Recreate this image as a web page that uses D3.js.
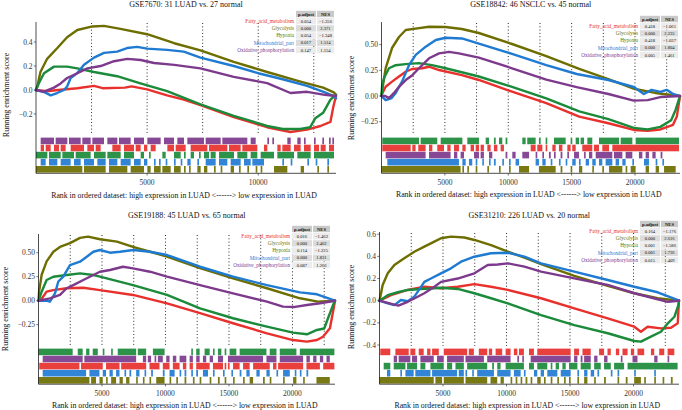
<!DOCTYPE html>
<html><head><meta charset="utf-8">
<script src="https://cdn.jsdelivr.net/npm/d3@7"></script>
<style>body{margin:0;background:#fff}svg{display:block}text{font-family:"Liberation Serif","DejaVu Serif",serif}</style>
</head><body><svg id="c" width="682" height="410"></svg>
<script>
// ---------- data ----------
const geneSets = ["Fatty_acid_metabolism","Glycolysis","Hypoxia","Mitochondrial_part","Oxidative_phosphorylation"];
const setColors = ["#e8302c","#6e6e00","#1b8a3a","#1f7ad2","#7d3a8c"];
const titles = ["GSE7670: 31 LUAD vs. 27 normal","GSE18842: 46 NSCLC vs. 45 normal","GSE19188: 45 LUAD vs. 65 normal","GSE31210: 226 LUAD vs. 20 normal"];
const rankMax = [13500, 23550, 23350, 23580];
const xTickVals = [[5000,10000],[5000,10000,15000,20000],[5000,10000,15000,20000],[5000,10000,15000,20000]];
const yTickVals = [[-0.2,0,0.2,0.4],[-0.25,0,0.25,0.5],[-0.25,0,0.25,0.5],[-0.4,-0.2,0,0.2,0.4,0.6]];
const vLineStep = 2500;
const pAdjust = [["0.054","0.000","0.054","0.017","0.147"],["0.418","0.000","0.418","0.000","0.005"],["0.016","0.000","0.114","0.000","0.087"],["0.164","0.000","0.001","0.001","0.015"]];
const nesVals = [["-1.356","2.371","-1.348","1.514","1.154"],["-1.061","2.235","-1.037","1.804","1.461"],["-1.462","2.462","-1.225","1.831","1.266"],["-1.176","2.616","-1.586","1.736","1.409"]];
const rugOrder = [[4,0,2,3,1],[2,0,4,3,1],[2,4,0,3,1],[0,4,2,3,1]];

// running enrichment score [rank, ES]
const es1_fatty=[[0,0],[500,-0.01],[1000,0],[1860,0.015],[2610,0.035],[3000,0.015],[4000,0.02],[4300,0.03],[5000,0.005],[5900,-0.045],[6650,-0.08],[7400,-0.125],[8900,-0.225],[10400,-0.31],[11450,-0.35],[12200,-0.33],[12800,-0.3],[13250,-0.265],[13380,-0.14],[13500,-0.05]];
const es1_gly=[[0,0],[60,0.03],[200,0.15],[500,0.26],[960,0.35],[1400,0.44],[1860,0.5],[2540,0.53],[3060,0.535],[3800,0.51],[5000,0.465],[6220,0.39],[7400,0.33],[8900,0.235],[10400,0.15],[11900,0.07],[12920,0.02],[13400,-0.02],[13500,-0.04]];
const es1_hyp=[[0,0],[140,0.06],[360,0.14],[810,0.195],[1400,0.195],[1860,0.18],[2610,0.15],[3650,0.115],[4700,0.055],[5900,-0.01],[7400,-0.12],[8900,-0.215],[10400,-0.3],[11100,-0.325],[11900,-0.325],[12340,-0.31],[12570,-0.235],[12920,-0.19],[13250,-0.08],[13500,-0.04]];
const es1_mito=[[0,0],[400,-0.02],[660,-0.045],[950,-0.025],[1260,0],[1400,0.03],[1560,0.1],[1850,0.14],[2160,0.21],[2610,0.27],[3060,0.31],[3650,0.32],[4100,0.35],[4550,0.36],[5000,0.345],[5900,0.335],[6650,0.32],[7400,0.27],[8900,0.2],[10000,0.14],[11100,0.09],[12200,0.035],[13000,-0.02],[13400,-0.05],[13500,-0.07]];
const es1_ox=[[0,0],[360,-0.014],[810,0.02],[1110,0.055],[1400,0.1],[1860,0.14],[2310,0.18],[2910,0.2],[3510,0.24],[4110,0.26],[4710,0.25],[5310,0.225],[6220,0.21],[7400,0.18],[8900,0.11],[10400,0.058],[11450,-0.025],[12200,-0.015],[13000,-0.04],[13500,-0.05]];

const es2_fatty=[[0,0],[80,0.03],[330,0.09],[830,0.14],[1380,0.19],[1910,0.236],[2410,0.263],[3200,0.27],[3750,0.285],[4540,0.253],[6340,0.204],[7680,0.156],[10300,0.042],[13000,-0.07],[15600,-0.2],[17900,-0.265],[19900,-0.33],[21000,-0.337],[22000,-0.325],[23000,-0.28],[23300,-0.2],[23550,0]];
const es2_gly=[[0,0],[120,0.107],[330,0.272],[830,0.467],[1380,0.574],[1910,0.642],[2960,0.661],[3750,0.674],[5050,0.671],[6340,0.652],[7680,0.613],[10300,0.506],[13000,0.389],[15600,0.263],[17900,0.165],[20000,0.068],[21600,0.03],[23550,0]];
const es2_hyp=[[0,0],[50,0.1],[200,0.175],[590,0.27],[1120,0.3],[1910,0.31],[2960,0.32],[3980,0.3],[5060,0.27],[7680,0.19],[10300,0.09],[13000,-0.022],[15600,-0.15],[17900,-0.225],[19900,-0.31],[21000,-0.325],[22000,-0.3],[22850,-0.235],[23200,-0.135],[23550,0]];
const es2_mito=[[0,0],[330,-0.04],[800,-0.02],[1120,0.03],[1620,0.14],[2170,0.3],[2700,0.4],[3490,0.48],[4280,0.545],[5060,0.567],[6340,0.56],[7680,0.51],[10300,0.41],[13000,0.3],[15400,0.214],[17900,0.156],[19900,0.088],[20700,0.02],[21300,0.06],[22000,0.04],[22500,0.06],[23000,0.02],[23550,0]];
const es2_ox=[[0,0],[300,0],[590,-0.02],[990,0.03],[1380,0.09],[1910,0.155],[2410,0.2],[2960,0.27],[3750,0.367],[4540,0.415],[5320,0.43],[6100,0.415],[7680,0.373],[10300,0.27],[13000,0.16],[15400,0.087],[17900,0.02],[19900,-0.045],[21000,-0.04],[22000,-0.01],[23550,0]];

const es3_fatty=[[0,0],[250,0.02],[640,0.094],[1170,0.11],[2220,0.13],[3530,0.135],[4840,0.11],[7440,0.06],[10120,-0.027],[12720,-0.13],[15320,-0.235],[17990,-0.34],[20040,-0.41],[21140,-0.427],[21930,-0.41],[22400,-0.375],[22950,-0.288],[23250,-0.076],[23350,0]];
const es3_gly=[[0,0],[50,0.1],[250,0.27],[640,0.41],[1170,0.51],[1690,0.56],[2480,0.6],[3270,0.655],[3900,0.667],[4840,0.64],[6180,0.615],[7440,0.56],[8780,0.51],[10120,0.46],[12720,0.34],[15320,0.233],[17990,0.13],[20590,0.025],[22000,-0.01],[23350,0]];
const es3_hyp=[[0,0],[250,0.094],[640,0.216],[1170,0.25],[2220,0.268],[3270,0.285],[4320,0.268],[4840,0.25],[7440,0.163],[10120,0.06],[12720,-0.08],[15320,-0.183],[17990,-0.27],[20040,-0.333],[21140,-0.35],[21930,-0.305],[22500,-0.29],[22800,-0.183],[23200,-0.045],[23350,0]];
const es3_mito=[[0,0],[600,0],[900,-0.01],[1300,0.077],[1560,0.2],[1950,0.25],[2480,0.37],[3270,0.406],[3800,0.458],[4320,0.51],[4840,0.528],[5630,0.5],[6420,0.51],[7470,0.528],[8780,0.51],[10120,0.476],[12720,0.354],[15320,0.25],[17990,0.163],[20590,0.087],[21930,0.067],[23350,0]];
const es3_ox=[[0,0],[900,0.025],[1690,0.06],[2220,0.13],[2740,0.163],[3530,0.216],[4320,0.268],[4840,0.302],[5630,0.32],[6650,0.354],[7440,0.337],[8780,0.302],[10120,0.25],[12720,0.163],[15320,0.077],[17990,-0.01],[19250,-0.062],[20200,-0.065],[21140,-0.045],[22170,-0.027],[23350,0]];

const es4_fatty=[[0,0],[900,0.05],[2220,0.097],[3530,0.126],[4840,0.112],[6160,0.126],[7470,0.15],[8780,0.126],[10100,0.097],[12720,0.022],[15340,-0.069],[17970,-0.159],[20060,-0.235],[20580,-0.28],[21110,-0.235],[22160,-0.25],[22950,-0.244],[23480,-0.204],[23580,0]];
const es4_gly=[[0,0],[250,0.142],[650,0.247],[1170,0.322],[1950,0.382],[2740,0.442],[3530,0.488],[4320,0.533],[4840,0.564],[5630,0.578],[6680,0.57],[7470,0.548],[8780,0.502],[10100,0.443],[11410,0.388],[12720,0.329],[15340,0.224],[17970,0.133],[20060,0.067],[21900,0.022],[23580,0]];
const es4_hyp=[[0,0],[650,0.05],[1440,0.076],[2220,0.097],[3270,0.106],[4320,0.112],[4840,0.117],[6160,0.106],[7470,0.067],[8780,0.022],[10100,-0.024],[12720,-0.13],[15340,-0.22],[17970,-0.294],[20060,-0.364],[20580,-0.37],[21370,-0.325],[22160,-0.28],[22700,-0.204],[23220,-0.145],[23530,-0.04],[23580,0]];
const es4_mito=[[0,0],[650,-0.024],[1170,-0.04],[1690,0.006],[2220,-0.005],[2740,0.036],[3000,0.08],[3530,0.17],[4050,0.2],[4840,0.247],[5630,0.292],[6420,0.352],[7470,0.397],[8780,0.428],[10100,0.433],[11410,0.397],[12720,0.337],[15340,0.262],[17970,0.187],[20060,0.126],[21900,0.076],[23500,0.006],[23580,0]];
const es4_ox=[[0,0],[800,-0.025],[1480,-0.045],[2220,-0.01],[2740,0.02],[3530,0.067],[4320,0.126],[4840,0.17],[6160,0.2],[7470,0.247],[8520,0.322],[9300,0.327],[10100,0.337],[11410,0.307],[12720,0.262],[15340,0.202],[17970,0.142],[20060,0.067],[21900,0.013],[22700,-0.01],[23580,0]];

// gene hit positions as [start rank, end rank] runs
const hits1_fatty=[[210,360],[435,660],[810,1035],[1110,1335],[1560,2160],[2310,2610],[2685,2910],[3435,3810],[3960,4410],[4485,4710],[4860,5010],[5160,5385],[5910,6210],[6285,6735],[6960,7710],[7785,8610],[8685,9210],[9285,9960],[10260,10410],[10860,11010],[11085,11460],[11610,11910],[12060,12360],[12510,12735],[12810,13035],[13185,13410]];
const hits1_gly=[[0,2085],[2160,3135],[3285,4110],[4260,4860],[5010,5160],[5310,5610],[5685,6060],[6210,6510],[6660,6735],[6885,6960],[7260,7410],[7560,7710],[8010,8085],[8310,8385],[8760,8910],[9135,9210],[9510,9585],[9885,9960],[10110,10185],[10710,11310],[11910,12060],[12660,12735],[13110,13185]];
const hits1_hyp=[[0,510],[585,1110],[1185,1710],[1785,2460],[2610,3135],[3210,3810],[3960,4410],[4710,4860],[5085,5160],[5685,5835],[6210,6510],[6660,6735],[6960,7110],[7335,7410],[7560,7785],[7860,8085],[8235,8910],[9060,9510],[9660,9960],[10110,10710],[10860,11610],[11760,12360],[12510,13410]];
const hits1_mito=[[210,435],[585,960],[1110,1560],[1710,2010],[2160,2610],[2760,3135],[3285,3660],[3810,4260],[4410,4710],[4860,5010],[5310,5385],[5535,5610],[5835,5910],[6210,6285],[6510,6585],[6810,6960],[7260,7335],[7635,8085],[8235,8610],[8760,9210],[9360,9660],[9735,10260],[11085,11160],[11460,11535],[12210,12285],[12585,12660],[13110,13185]];
const hits1_ox=[[210,810],[885,1410],[1485,2010],[2085,2460],[2535,3060],[3210,3660],[3735,4260],[4410,4860],[5010,5610],[5760,6210],[6360,6660],[6810,7560],[7635,8310],[8385,9510],[9660,9885],[10410,10485],[10635,10710],[11310,11460],[11760,11910],[12060,12135],[12510,12585],[12885,12960],[13185,13260],[13335,13410]];

const hits2_fatty=[[60,2300],[2430,2690],[2900,3480],[3750,4010],[4400,4930],[5190,5450],[5720,6110],[6380,6640],[7030,7300],[7430,7690],[7820,8080],[8350,8610],[8870,9140],[9400,9660],[11770,12160],[12290,12690],[12950,13080],[13480,13740],[14000,14270],[14660,14920],[15050,15320],[15840,16630],[16760,17160],[17420,17950],[18210,23470]];
const hits2_gly=[[0,6240],[6380,6510],[6770,6900],[7430,7560],[8350,8480],[9270,9400],[10060,10190],[10850,11640],[12420,13740],[14130,14270],[14920,15050],[15580,15840],[16630,16760],[17420,17550],[17950,19000],[19260,19390],[19660,20050],[20840,21100],[21630,21890],[22290,23210]];
const hits2_hyp=[[60,2960],[3090,4400],[4670,6380],[6770,7690],[8220,8480],[8870,9010],[9270,9530],[9790,9930],[11110,11370],[11500,12160],[12420,12560],[12950,13080],[13610,14530],[14920,15050],[15320,15580],[15710,15980],[16240,16630],[17160,18740],[18870,19790],[20050,23470]];
const hits2_mito=[[460,6110],[6380,6640],[6900,7160],[7430,7560],[7950,8080],[8480,8610],[8870,9010],[9530,9660],[10060,10190],[10580,10850],[12160,12420],[12690,12950],[13350,13480],[14000,14130],[14530,14660],[15050,15320],[15580,15710],[16110,16370],[16630,16900],[17160,17420],[17680,18210],[18470,18740],[19000,19260],[19790,19920],[20710,21100],[21630,21760],[22160,22290]];
const hits2_ox=[[330,3480],[3750,5450],[5720,5980],[6240,6510],[7300,7690],[7820,8080],[8480,8740],[9790,9930],[10320,10580],[11110,11640],[12160,12290],[12690,12820],[13210,13350],[13610,13740],[14130,14270],[14660,14790],[15190,15580],[15980,16110],[16370,16630],[16900,18210],[18340,19000],[19260,19790],[20310,20580],[20840,21100],[21370,21630],[22020,22160]];

const hits3_fatty=[[60,3220],[3350,5060],[5320,6380],[6510,8480],[8740,9530],[9790,10320],[10580,11110],[11370,11640],[11900,12160],[12420,13480],[13740,14530],[14660,14790],[14920,15050],[15320,15840],[16110,16630],[16900,18210],[18470,18740],[18870,20840],[21100,22160],[22420,23300]];
const hits3_gly=[[0,4010],[4140,4530],[4800,5060],[5320,5450],[5720,6110],[6380,6640],[6900,7160],[7690,7820],[8220,8350],[8740,8870],[9270,9930],[10320,10450],[10850,10980],[11500,11640],[12160,12290],[12690,12820],[13480,13610],[14130,14270],[14660,14790],[15320,15450],[16110,16240],[16630,16900],[17680,17820],[18210,18340],[19260,19390],[20050,20310],[20840,20970],[21890,22940]];
const hits3_hyp=[[0,2690],[3090,3480],[3750,4010],[4270,4670],[5060,5190],[5720,5850],[6240,7690],[7820,8480],[9010,9930],[12030,12160],[12420,12690],[13080,13480],[13740,13870],[14130,14400],[14660,14790],[15050,15580],[15840,17950],[18210,18740],[19000,20310],[20580,23300]];
const hits3_mito=[[330,3750],[4010,4800],[5060,5320],[5590,5850],[6110,6380],[6770,6900],[7160,7300],[7690,7950],[8350,8480],[8870,9010],[9790,9930],[10320,10720],[11110,11240],[11500,11640],[12030,12160],[12420,12560],[12950,13350],[13740,13870],[14530,14660],[15190,15320],[15840,15980],[16370,16630],[17160,17420],[17950,18210],[18740,18870],[19260,19790],[20180,20310],[20580,20710],[21100,21240]];
const hits3_ox=[[330,3480],[3610,7690],[8220,8480],[8610,8870],[9140,9270],[9400,9790],[10060,10320],[10580,10850],[11110,11640],[11900,12160],[12420,12690],[12950,13210],[13480,13740],[14130,14530],[14920,17680],[17950,18740],[19000,20840],[21100,21370],[21630,21890],[22160,22420],[22680,22940]];

const hits4_fatty=[[60,850],[1250,2300],[2430,2820],[3090,3480],[3750,4010],[4140,4670],[5060,6900],[7030,7430],[7820,8480],[8610,8870],[9140,9660],[9930,10320],[10580,10850],[10980,11370],[11770,12160],[12420,15050],[15320,15710],[15980,16630],[17290,17680],[17950,18210],[18610,18870],[19130,19530],[19790,20050],[20310,20840],[21370,21630],[22020,22420],[22680,23210]];
const hits4_gly=[[0,4270],[4400,4930],[5060,6640],[6770,8480],[8740,9270],[9530,9790],[10320,10450],[10720,10850],[11110,11240],[11500,11640],[11900,12030],[12420,12690],[12950,13080],[13480,13610],[14000,14130],[14530,14660],[14920,15050],[15580,15710],[16110,16370],[16900,17030],[17680,17820],[18740,18870],[19390,19530],[20050,20580],[20840,20970],[21630,21760],[22290,22420],[22940,23080]];
const hits4_hyp=[[330,850],[1120,2040],[2170,2960],[3220,3610],[4010,5060],[5320,5720],[5980,6640],[6900,8480],[8870,9010],[9270,9530],[9930,11370],[11770,12160],[12420,13210],[13480,13610],[13870,14130],[14400,14660],[14920,15580],[15840,16630],[16900,17420],[17680,18210],[18470,19260],[19530,23470]];
const hits4_mito=[[590,850],[1640,1770],[2040,2690],[2820,4010],[4140,6110],[6240,6640],[6770,6900],[7300,7430],[7690,9010],[9270,10320],[10580,11110],[11370,11500],[12160,12420],[12690,12950],[13210,14000],[14270,15050],[15580,15710],[16110,16370],[16630,16900],[17160,17290],[18210,18340],[18740,18870],[20050,20180],[21630,21760]];
const hits4_ox=[[1120,1380],[1510,2430],[2560,2960],[3220,4270],[4530,5060],[5320,6640],[6770,8220],[8480,10320],[10850,10980],[11240,11370],[11900,15050],[15320,15580],[15840,15980],[16110,16630],[16900,17160],[17680,17950],[19000,19130],[19920,20310],[21630,21890],[22680,22810]];

const esCurves = [[es1_fatty,es1_gly,es1_hyp,es1_mito,es1_ox],[es2_fatty,es2_gly,es2_hyp,es2_mito,es2_ox],[es3_fatty,es3_gly,es3_hyp,es3_mito,es3_ox],[es4_fatty,es4_gly,es4_hyp,es4_mito,es4_ox]];
const hitRuns = [[hits1_fatty,hits1_gly,hits1_hyp,hits1_mito,hits1_ox],[hits2_fatty,hits2_gly,hits2_hyp,hits2_mito,hits2_ox],[hits3_fatty,hits3_gly,hits3_hyp,hits3_mito,hits3_ox],[hits4_fatty,hits4_gly,hits4_hyp,hits4_mito,hits4_ox]];

// ---------- layout ----------
const layout = [
 {L:36,  R:336, top:22,  bot:135, lo:-0.375, hi:0.567, rugTop:137.6, axisBot:173.3, titleY:7,   ytX:8.5, ytY:95,  xtY:198, fmt:".1f", tblY:14,  tblR:334},
 {L:381.5,R:680,top:22,  bot:135, lo:-0.379, hi:0.72,  rugTop:137.6, axisBot:173.3, titleY:7,   ytX:354, ytY:98,  xtY:197, fmt:".2f", tblY:19,  tblR:678},
 {L:38.5,R:335, top:234, bot:346, lo:-0.472, hi:0.695, rugTop:348.6, axisBot:384.2, titleY:218, ytX:7.5, ytY:309, xtY:408, fmt:".2f", tblY:229, tblR:330},
 {L:379.5,R:679,top:232, bot:346, lo:-0.409, hi:0.62,  rugTop:348.6, axisBot:384.2, titleY:218, ytX:354, ytY:307, xtY:408, fmt:".1f", tblY:224, tblR:678}
];

const svg = d3.select("#c");
const minus = s => s.replace("-", "\u2212");

layout.forEach((P, p) => {
  const g = svg.append("g");
  const x = d3.scaleLinear().domain([0, rankMax[p]]).range([P.L, P.R]);
  const y = d3.scaleLinear().domain([P.lo, P.hi]).range([P.bot, P.top]);

  // dotted verticals
  const vl = d3.range(vLineStep, rankMax[p], vLineStep);
  g.selectAll("line.v").data(vl).join("line")
    .attr("x1", d => x(d)).attr("x2", d => x(d))
    .attr("y1", P.top + 1).attr("y2", P.bot)
    .attr("stroke", "#111").attr("stroke-width", 0.9).attr("stroke-dasharray", "1,2.3");

  // curves
  const line = d3.line().x(d => x(d[0])).y(d => y(d[1]));
  esCurves[p].forEach((c, i) => {
    g.append("path").attr("d", line(c)).attr("fill", "none")
      .attr("stroke", setColors[i]).attr("stroke-width", 2.4)
      .attr("stroke-linejoin", "round").attr("stroke-linecap", "round");
  });

  // rug rows
  rugOrder[p].forEach((s, k) => {
    const y0 = P.rugTop + k * 7.1;
    g.append("g").selectAll("rect").data(hitRuns[p][s]).join("rect")
      .attr("x", d => x(d[0])).attr("width", d => Math.max(1, x(d[1]) - x(d[0])))
      .attr("y", y0).attr("height", 6.6)
      .attr("fill", setColors[s]).attr("opacity", 0.92);
  });

  // axes
  g.append("line").attr("x1", P.L).attr("x2", P.L).attr("y1", P.top).attr("y2", P.axisBot).attr("stroke", "#000").attr("stroke-width", 0.7);
  g.append("line").attr("x1", P.L).attr("x2", P.R).attr("y1", P.axisBot).attr("y2", P.axisBot).attr("stroke", "#000").attr("stroke-width", 0.7);
  const yf = d3.format(P.fmt);
  yTickVals[p].forEach(v => {
    g.append("line").attr("x1", P.L - 2.2).attr("x2", P.L).attr("y1", y(v)).attr("y2", y(v)).attr("stroke", "#333").attr("stroke-width", 0.7);
    g.append("text").attr("x", P.L - 3.5).attr("y", y(v)).attr("dy", "0.34em").attr("text-anchor", "end")
      .attr("font-size", 7.5).attr("fill", "#333").text(minus(yf(v)));
  });
  xTickVals[p].forEach(v => {
    g.append("line").attr("x1", x(v)).attr("x2", x(v)).attr("y1", P.axisBot).attr("y2", P.axisBot + 2.2).attr("stroke", "#333").attr("stroke-width", 0.7);
    g.append("text").attr("x", x(v)).attr("y", P.axisBot + 12).attr("text-anchor", "middle")
      .attr("font-size", 7.5).attr("fill", "#333").text(v);
  });

  // titles
  const cx = (P.L + P.R) / 2;
  g.append("text").attr("x", cx).attr("y", P.titleY).attr("text-anchor", "middle").attr("font-size", 8).attr("fill", "#111").text(titles[p]);
  g.append("text").attr("x", cx - 2).attr("y", P.xtY).attr("text-anchor", "middle").attr("font-size", 7.8).attr("fill", "#111")
    .text("Rank in ordered dataset: high expression in LUAD <------> low expression in LUAD");
  g.append("text").attr("transform", `translate(${P.ytX},${P.ytY}) rotate(-90)`).attr("text-anchor", "middle")
    .attr("font-size", 8).attr("fill", "#111").text("Running enrichment score");

  // p-value table
  const wP = 20, wN = 17, pitch = 7.2, ch = 6.4;
  const xN = P.tblR - wN, xP = xN - 1 - wP;
  const tg = g.append("g");
  [[xP, wP, "p.adjust"], [xN, wN, "NES"]].forEach(([xx, w, t]) => {
    tg.append("rect").attr("x", xx).attr("y", P.tblY - ch / 2).attr("width", w).attr("height", ch).attr("fill", "#c9c9c9");
    tg.append("text").attr("x", xx + w / 2).attr("y", P.tblY).attr("dy", "0.35em").attr("text-anchor", "middle")
      .attr("font-size", 4.6).attr("font-weight", "bold").attr("fill", "#111").text(t);
  });
  geneSets.forEach((name, i) => {
    const cy = P.tblY + (i + 1) * pitch;
    const fill = i % 2 === 0 ? "#ececec" : "#dcdcdc";
    tg.append("rect").attr("x", xP).attr("y", cy - ch / 2).attr("width", wP).attr("height", ch).attr("fill", fill);
    tg.append("rect").attr("x", xN).attr("y", cy - ch / 2).attr("width", wN).attr("height", ch).attr("fill", fill);
    tg.append("text").attr("x", xP + wP / 2).attr("y", cy).attr("dy", "0.35em").attr("text-anchor", "middle")
      .attr("font-size", 4.6).attr("fill", "#111").text(pAdjust[p][i]);
    tg.append("text").attr("x", xN + wN / 2).attr("y", cy).attr("dy", "0.35em").attr("text-anchor", "middle")
      .attr("font-size", 4.6).attr("fill", "#111").text(minus(nesVals[p][i]));
    tg.append("text").attr("x", xP - 2).attr("y", cy).attr("dy", "0.35em").attr("text-anchor", "end")
      .attr("font-size", 5.2).attr("fill", setColors[i]).text(name);
  });
});
</script></body></html>
